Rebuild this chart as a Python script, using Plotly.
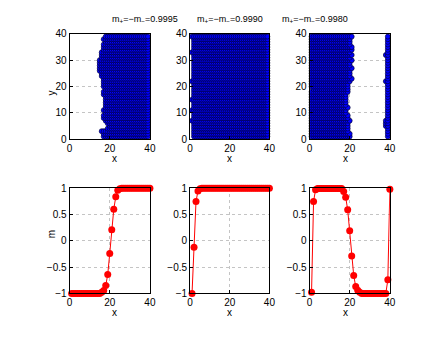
import plotly.graph_objects as go
from plotly.subplots import make_subplots

# ---- data ----
titles = ["m<sub>+</sub>=−m<sub>−</sub>=0.9995",
          "m<sub>+</sub>=−m<sub>−</sub>=0.9990",
          "m<sub>+</sub>=−m<sub>−</sub>=0.9980"]

rows = list(range(1, 40))  # lattice rows shown in the snapshots
ncols = 39

# panel 1: first occupied column of each row (occupied up to the right edge)
p1_start = [17, 17, 16, 19, 20, 19, 18, 17, 17, 18, 17, 18, 18, 18, 18, 18, 17, 17, 18, 17,
            17, 17, 17, 16, 16, 15, 15, 15, 15, 15, 16, 16, 16, 17, 17, 17, 18, 17, 18]
# panel 2: first occupied column of each row
p2_start = [2, 2, 2, 2, 2, 2, 1, 2, 2, 2, 1, 2, 2, 2, 1, 2, 2, 2, 2, 2,
            2, 1, 2, 2, 2, 2, 2, 2, 2, 2, 2, 2, 1, 2, 2, 2, 2, 2, 1]
# panel 3: left block (first..last column) and right strip start column
p3_first = [1, 1, 1, 1, 1, 1, 1, 1, 1, 1, 1, 1, 1, 1, 1, 1, 1, 1, 2, 1,
            1, 1, 1, 1, 1, 1, 1, 1, 1, 1, 1, 1, 1, 1, 1, 1, 1, 1, 1]
p3_last = [20, 20, 19, 19, 19, 19, 20, 19, 19, 18, 18, 19, 18, 18, 18, 18, 18, 19, 19, 19,
           19, 20, 21, 20, 20, 20, 21, 20, 20, 21, 20, 21, 20, 21, 21, 20, 20, 20, 21]
p3_strip = [39, 39, 39, 39, 38, 38, 38, 39, 39, 39, 39, 39, 39, 39, 39, 39, 39, 39, 39, 39,
            39, 38, 39, 39, 39, 39, 39, 39, 39, 39, 39, 38, 39, 39, 39, 39, 39, 39, 39]

x_prof = list(range(1, 41))
m1 = [-1]*15 + [-0.98, -0.945, -0.85, -0.64, -0.24, 0.21, 0.6, 0.84, 0.96, 0.99] + [1]*15
m2 = [-1, -0.12, 0.75, 0.95, 0.99] + [1]*35
m3 = ([-0.98, 0.75, 0.97] + [0.995]*13 + [0.94, 0.83, 0.59, 0.19, -0.29, -0.66, -0.87, -0.94, -0.98]
      + [-1]*13 + [-0.74, 0.98])


def snapshot(spans):
    xs, ys = [], []
    for y, segs in zip(rows, spans):
        for a, b in segs:
            for x in range(a, b + 1):
                xs.append(x)
                ys.append(y)
    return xs, ys


snaps = [
    snapshot([[(s, ncols)] for s in p1_start]),
    snapshot([[(s, ncols)] for s in p2_start]),
    snapshot([[(f, l), (s, ncols)] for f, l, s in zip(p3_first, p3_last, p3_strip)]),
]
profiles = [m1, m2, m3]

fig = make_subplots(rows=2, cols=3)

for i, (xs, ys) in enumerate(snaps):
    fig.add_trace(go.Scatter(
        x=xs, y=ys, mode="markers",
        marker=dict(size=5, color="#0000ff", line=dict(color="#000022", width=0.6)),
        cliponaxis=False, showlegend=False), row=1, col=i + 1)

for i, m in enumerate(profiles):
    fig.add_trace(go.Scatter(
        x=x_prof, y=m, mode="lines+markers",
        line=dict(color="#ff0000", width=1),
        marker=dict(size=7, color="#ff0000"),
        cliponaxis=False, showlegend=False), row=2, col=i + 1)

W, H = 436, 337
xdoms = [[68/W, 150/W], [191/W, 272/W], [313/W, 395/W]]
ytop = [1 - 138/H, 1 - 29/H]
ybot = [1 - 298/H, 1 - 189/H]

axis_style = dict(showline=True, linecolor="black", linewidth=1, mirror=True,
                  ticks="inside", ticklen=3, tickcolor="black",
                  showgrid=True, gridcolor="#c4c4c4", griddash="dot", gridwidth=1,
                  zeroline=False, tickfont=dict(family="Liberation Sans", size=10, color="black"))

for i in range(3):
    fig.update_xaxes(axis_style, domain=xdoms[i], range=[0, 40], tickvals=[0, 20, 40], row=1, col=i + 1)
    fig.update_yaxes(axis_style, domain=ytop, range=[0, 40], tickvals=[0, 10, 20, 30, 40], row=1, col=i + 1)
    fig.update_xaxes(axis_style, domain=xdoms[i], range=[0, 40], tickvals=[0, 20, 40], row=2, col=i + 1)
    fig.update_yaxes(axis_style, domain=ybot, range=[-1, 1], tickvals=[-1, -0.5, 0, 0.5, 1],
                     ticktext=["−1", "−0.5", "0", "0.5", "1"], row=2, col=i + 1)

font = dict(family="Liberation Sans", size=10, color="black")
ann = []
for i in range(3):
    xc = (xdoms[i][0] + xdoms[i][1]) / 2
    ann.append(dict(text=titles[i], x=xc, y=1 - 14/H, xref="paper", yref="paper",
                    showarrow=False, yanchor="middle",
                    font=dict(family="Liberation Sans", size=9, color="black")))
    ann.append(dict(text="x", x=xc, y=1 - 158/H, xref="paper", yref="paper",
                    showarrow=False, yanchor="middle", font=font))
    ann.append(dict(text="x", x=xc, y=1 - 318/H, xref="paper", yref="paper",
                    showarrow=False, yanchor="middle", font=font))
ann.append(dict(text="y", x=49/W, y=1 - 85/H, xref="paper", yref="paper",
                showarrow=False, textangle=-90, xanchor="center", font=font))
ann.append(dict(text="m", x=49/W, y=1 - 243/H, xref="paper", yref="paper",
                showarrow=False, textangle=-90, xanchor="center", font=font))

fig.update_layout(width=W, height=H, margin=dict(l=0, r=0, t=0, b=0),
                  paper_bgcolor="white", plot_bgcolor="white", annotations=ann)

fig.write_html("out.html", config={"displayModeBar": False},
               post_script="document.body.style.margin='0';")
